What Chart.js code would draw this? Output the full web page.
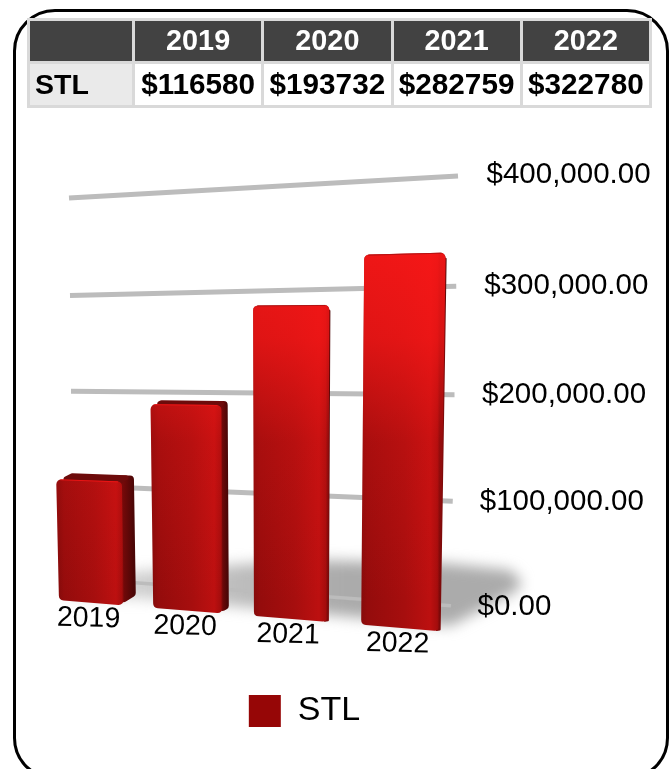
<!DOCTYPE html>
<html>
<head>
<meta charset="utf-8">
<style>
  html, body { margin: 0; padding: 0; background: #fff; width: 672px; height: 769px; overflow: hidden; }
  #frame { position: absolute; left: 13px; top: 9px; width: 650px; height: 765px; border: 3px solid #000; border-radius: 42px; }
  #mycanvas { position: absolute; left: 0; top: 0; }
  #stats { position: absolute; left: 27px; top: 18px; width: 625px; height: 90px; table-layout: fixed; border-collapse: collapse;
    font: bold 29.7px "Liberation Sans", Arial, sans-serif; color: #000; }
  #stats td, #stats th { border: 3px solid #d9d9d9; padding: 0; text-align: center; white-space: nowrap; overflow: visible; }
  #stats th { background: #424242; color: #fff; font-weight: bold; font-size: 28.8px; }
  #stats td.name { background: #eaeaea; text-align: left; padding-left: 5px; font-size: 28.5px; }
</style>
</head>
<body>
<div id="frame"></div>
<canvas id="mycanvas" width="672" height="769"></canvas>
<table id="stats"><colgroup><col style="width:105px"><col><col><col><col></colgroup><tbody id="statsbody"></tbody></table>
<script src="https://cdn.jsdelivr.net/npm/chart.js@4"></script>
<script>
var categories = ["2019", "2020", "2021", "2022"];
var seriesName = "STL";
var stlValues = [116580, 193732, 282759, 322780];
var axisMax = 400000;
var axisStep = 100000;

// table above the chart
var headRow = "<tr><th></th>";
var bodyRow = "<tr><td class='name'>" + seriesName + "</td>";
for (var i in categories) {
  headRow += "<th>" + categories[i] + "</th>";
  bodyRow += "<td>$" + stlValues[i] + "</td>";
}
document.getElementById("statsbody").innerHTML = headRow + "</tr>" + bodyRow + "</tr>";

// the picture is a tilted 3d view, these map the flat chart scales onto it
function viewX(chart, x) {
  var u = (x - chart.chartArea.left) / chart.chartArea.width;
  return 45.2 + 360 * u + 52 * u * u;
}
function wallY(chart, value, x) {
  var s = chart.scales.y;
  var f = (s.getPixelForValue(value) - s.top) / (s.bottom - s.top);
  f = f + 0.035 * f * (1 - f);
  var right = 176 + f * 430;
  var left = 198 + f * 380;
  var t = (x - 70) / 386;
  return left + (right - left) * t;
}
function floorY(x) {
  return 600 + 0.0816 * (x - 58);
}
function roundPoly(ctx, pts, r) {
  var n = pts.length;
  ctx.beginPath();
  ctx.moveTo((pts[n - 1][0] + pts[0][0]) / 2, (pts[n - 1][1] + pts[0][1]) / 2);
  for (var i = 0; i < n; i++) {
    var b = pts[(i + 1) % n];
    ctx.arcTo(pts[i][0], pts[i][1], (pts[i][0] + b[0]) / 2, (pts[i][1] + b[1]) / 2, r);
  }
  ctx.closePath();
}

function drawShadow(ctx) {
  var pts = [[60, 592], [100, 574], [300, 560], [440, 563], [510, 570], [526, 585], [500, 600], [450, 626], [300, 612], [140, 598], [70, 598]];
  var fade = ctx.createLinearGradient(50, 0, 340, 0);
  fade.addColorStop(0, "rgba(150,150,150,0.3)");
  fade.addColorStop(1, "rgba(150,150,150,0.8)");
  ctx.save();
  ctx.filter = "blur(7px)";
  ctx.fillStyle = fade;
  roundPoly(ctx, pts, 8);
  ctx.fill();
  ctx.restore();
}

function drawGrid(chart, ctx) {
  var ticks = chart.scales.y.ticks;
  ctx.save();
  ctx.strokeStyle = "#bcbcbc";
  for (var i in ticks) {
    var v = ticks[i].value;
    var t = v / axisMax;
    var x1 = 73 - 4 * t;
    var x2 = 451 + 7 * t;
    ctx.lineWidth = v == 0 ? 3.5 : 5;
    ctx.beginPath();
    ctx.moveTo(x1, wallY(chart, v, x1));
    ctx.lineTo(x2, wallY(chart, v, x2));
    ctx.stroke();
  }
  ctx.restore();
}

function drawBar(chart, ctx, el) {
  var s = chart.scales.y;
  var half = el.width / 2;
  var xl = viewX(chart, el.x - half);
  var xr = viewX(chart, el.x + half);
  var xm = (xl + xr) / 2;
  var k = Math.max(1.05, 0.9785 + 0.000452 * xm);
  var h = (el.base - el.y) / (s.bottom - s.top) * 400 * k;
  var lb = floorY(xl), rb = floorY(xr);
  var top = (lb + rb) / 2 - h;
  var tilt = (250 - xm) / 150;
  var lt = top - tilt;
  var rt = top + tilt;
  var ltx = xl + h * (xl - 280) / 9950;
  var rtx = xr + h * (xr - 280) / 9950;
  var depth = Math.max(1, 12 * (330 - xr) / 207);
  var lift = (lt - 250) * 0.026;
  var sideTop = lift > 2 ? rt - lift : rt + 5;

  // side
  var side = ctx.createLinearGradient(rtx - 1, 0, rtx + depth, 0);
  side.addColorStop(0, "#7d0a0a");
  side.addColorStop(1, "#4a0606");
  ctx.fillStyle = side;
  roundPoly(ctx, [[rtx - 4, sideTop], [rtx + depth, sideTop], [xr + depth, rb - depth * 0.85], [xr - 4, rb]], lift > 2 ? 4 : 1);
  ctx.fill();

  // top
  if (lift > 2) {
    ctx.fillStyle = "#6d0b0b";
    roundPoly(ctx, [[ltx, lt + 2], [ltx + lift * 2.6, lt - lift], [rtx + depth, rt - lift], [rtx, rt + 2]], 2.5);
    ctx.fill();
  }

  // front
  var front = [[ltx, lt], [rtx, rt], [xr, rb], [xl, lb]];
  var grad = ctx.createLinearGradient(xl, 0, xr, 0);
  grad.addColorStop(0, "#860b0b");
  grad.addColorStop(0.08, "#940c0c");
  grad.addColorStop(0.55, "#a60e0e");
  grad.addColorStop(0.88, "#bc1010");
  grad.addColorStop(0.97, "#a40d0d");
  grad.addColorStop(1, "#7a0909");
  ctx.fillStyle = grad;
  roundPoly(ctx, front, 5);
  ctx.fill();

  // brighter towards the top of the picture
  var glow = ctx.createLinearGradient(0, 250, 0, 600);
  glow.addColorStop(0, "rgba(255,24,24,0.85)");
  glow.addColorStop(0.25, "rgba(255,24,24,0.7)");
  glow.addColorStop(0.55, "rgba(255,24,24,0.2)");
  glow.addColorStop(1, "rgba(255,24,24,0)");
  ctx.fillStyle = glow;
  roundPoly(ctx, front, 5);
  ctx.fill();

  // bright front edge of the top
  ctx.strokeStyle = lift > 2 ? "rgba(240,20,20,0.9)" : "rgba(110,10,10,0.45)";
  ctx.lineWidth = 1;
  ctx.beginPath();
  ctx.moveTo(ltx + 4, lt + 0.5);
  ctx.lineTo(rtx - 4, rt + 0.5);
  ctx.stroke();
}

var view3d = {
  id: "view3d",
  beforeDatasetsDraw: function(chart) {
    var ctx = chart.ctx;
    drawShadow(ctx);
    drawGrid(chart, ctx);

    var bars = chart.getDatasetMeta(0).data;
    for (var i = 0; i < bars.length; i++) {
      drawBar(chart, ctx, bars[i]);
    }

    ctx.save();
    ctx.fillStyle = "#000";
    ctx.textBaseline = "middle";

    // category labels under the bars
    ctx.font = "28.5px 'Liberation Sans'";
    ctx.textAlign = "center";
    for (var i = 0; i < bars.length; i++) {
      var cx = viewX(chart, bars[i].x);
      ctx.save();
      ctx.translate(cx - 2.5, floorY(cx) + 16);
      ctx.rotate(0.025);
      ctx.fillText(chart.data.labels[i], 0, 0);
      ctx.restore();
    }

    // value labels on the right
    var ticks = chart.scales.y.ticks;
    ctx.font = "29.5px 'Liberation Sans'";
    ctx.textAlign = "left";
    for (var i in ticks) {
      var t = ticks[i].value / axisMax;
      ctx.fillText(ticks[i].label, 477.5 + 9 * t, wallY(chart, ticks[i].value, 456) + 1 - 2 * t);
    }
    ctx.restore();
    return false;
  }
};

var ctx = document.getElementById("mycanvas");
var graph = new Chart(ctx, {
  type: "bar",
  data: {
    labels: categories,
    datasets: [{
      label: seriesName,
      data: stlValues,
      backgroundColor: "#960606",
      borderWidth: 0,
      barPercentage: 0.696,
      categoryPercentage: 1
    }]
  },
  plugins: [view3d],
  options: {
    responsive: false,
    animation: false,
    layout: { padding: { top: 176, right: 63, bottom: 31, left: 0 } },
    plugins: {
      tooltip: { enabled: false },
      legend: {
        position: "bottom",
        labels: {
          boxWidth: 32,
          boxHeight: 32,
          padding: 0,
          color: "#000",
          font: { family: "'Liberation Sans'", size: 34 }
        }
      }
    },
    scales: {
      x: {
        grid: { display: false },
        border: { display: false },
        ticks: { display: false },
        afterFit: function(s) { s.height = 89; }
      },
      y: {
        position: "right",
        min: 0,
        max: axisMax,
        grid: { display: false },
        border: { display: false },
        ticks: {
          display: false,
          stepSize: axisStep,
          callback: function(v) {
            return "$" + v.toLocaleString("en-US", { minimumFractionDigits: 2, maximumFractionDigits: 2 });
          }
        }
      }
    }
  }
});
</script>
</body>
</html>
